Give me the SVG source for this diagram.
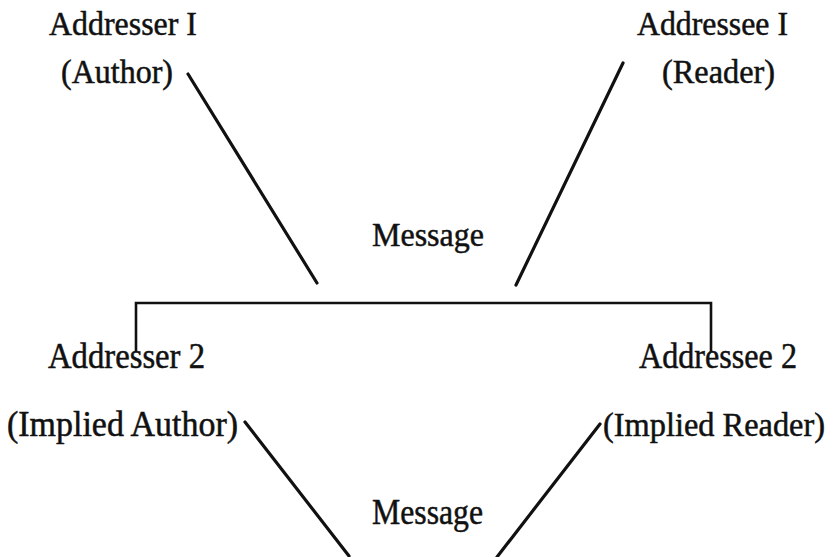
<svg xmlns="http://www.w3.org/2000/svg" width="835" height="557" viewBox="0 0 835 557">
  <style>
    .lbl { font-family: "Liberation Serif", "Times New Roman", serif; font-size: 34px; fill: #111; stroke: #111; stroke-width: 0.5; }
    .lo { font-size: 35px; }
    .lo2 { font-size: 33px; }
    .wire { stroke: #111; stroke-width: 3.2; stroke-linecap: round; fill: none; }
    .bracket { stroke: #111; stroke-width: 2.6; fill: none; }
  </style>
  <rect width="835" height="557" fill="#fff"/>

  <g id="addresser1">
    <text class="lbl" x="49" y="35" textLength="148" lengthAdjust="spacingAndGlyphs">Addresser I</text>
    <text class="lbl" x="61" y="83" textLength="112" lengthAdjust="spacingAndGlyphs">(Author)</text>
  </g>
  <g id="addressee1">
    <text class="lbl" x="637" y="35" textLength="151" lengthAdjust="spacingAndGlyphs">Addressee I</text>
    <text class="lbl" x="662" y="83" textLength="113" lengthAdjust="spacingAndGlyphs">(Reader)</text>
  </g>
  <g id="message1">
    <text class="lbl" x="372" y="246" textLength="112" lengthAdjust="spacingAndGlyphs">Message</text>
  </g>
  <g id="addresser2">
    <text class="lbl lo" x="48" y="368" textLength="157" lengthAdjust="spacingAndGlyphs">Addresser 2</text>
    <text class="lbl lo" x="7" y="436" textLength="231" lengthAdjust="spacingAndGlyphs">(Implied Author)</text>
  </g>
  <g id="addressee2">
    <text class="lbl lo2" x="603" y="436" textLength="222" lengthAdjust="spacingAndGlyphs">(Implied Reader)</text>
    <text class="lbl lo" x="639" y="368" textLength="158" lengthAdjust="spacingAndGlyphs">Addressee 2</text>
  </g>
  <g id="message2">
    <text class="lbl lo" x="372" y="524" textLength="111" lengthAdjust="spacingAndGlyphs">Message</text>
  </g>

  <g id="connectors">
    <line class="wire" x1="188" y1="74" x2="317" y2="283"/>
    <line class="wire" x1="623" y1="63" x2="516" y2="285"/>
    <path class="bracket" d="M136 352 V303 H711 V352"/>
    <line class="wire" x1="245" y1="422" x2="349" y2="556"/>
    <line class="wire" x1="600" y1="424" x2="497" y2="557"/>
  </g>
</svg>
